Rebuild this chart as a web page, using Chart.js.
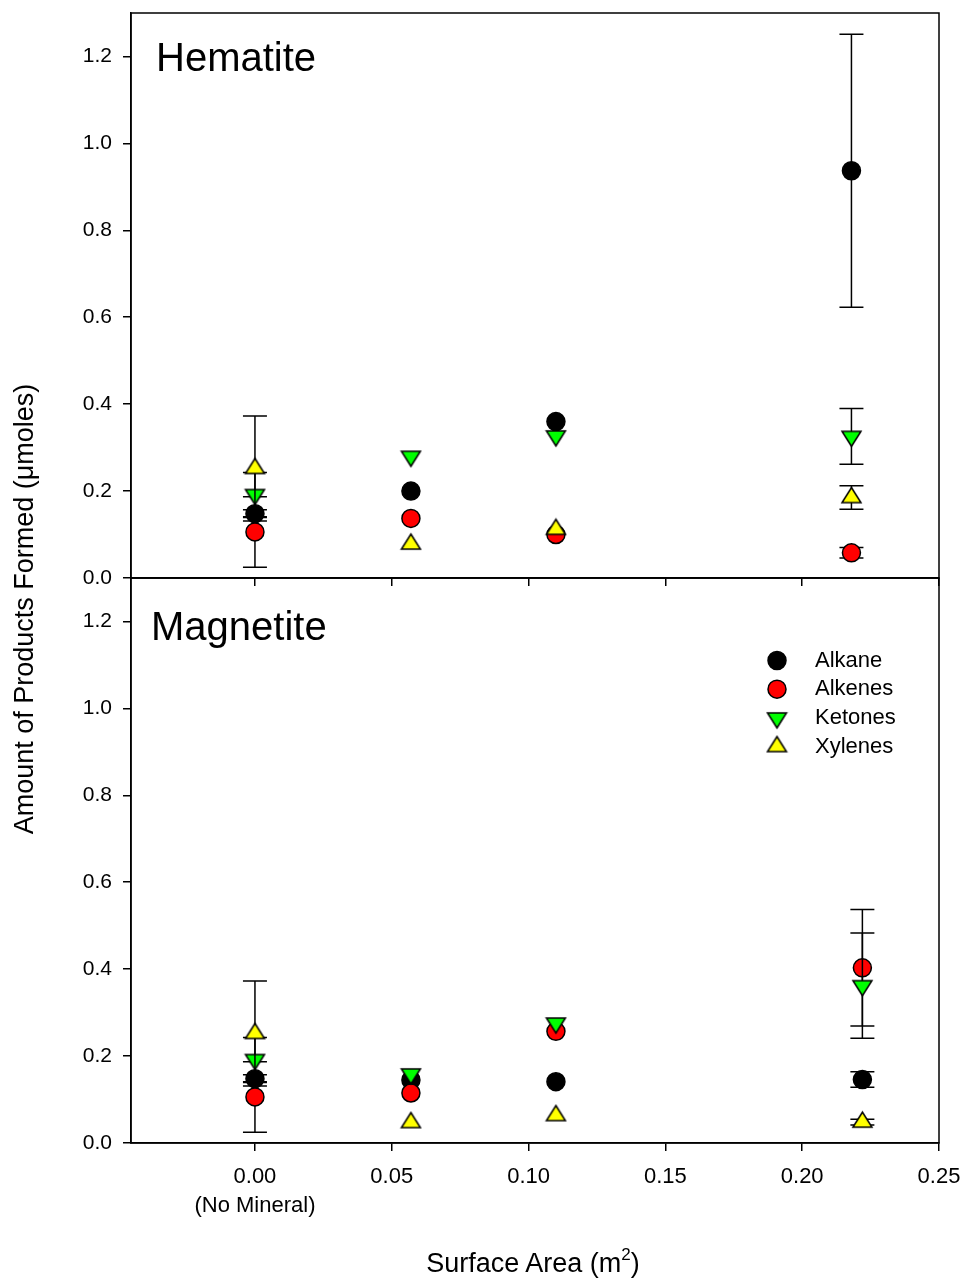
<!DOCTYPE html>
<html>
<head>
<meta charset="utf-8">
<title>Products formed vs surface area</title>
<script src="https://cdn.jsdelivr.net/npm/chart.js@4.4.1/dist/chart.umd.min.js"></script>
<style>
    body { margin: 0; background: #fff; }
    #wrap { position: relative; width: 966px; height: 1279px; font-family: "Liberation Sans", Arial, sans-serif; color: #000; }
    #topCanvas { position: absolute; left: 0; top: 0; }
    #botCanvas { position: absolute; left: 0; top: 578px; }
    .y-title { position: absolute; left: -226px; top: 594px; width: 500px; height: 30px; line-height: 30px;
               text-align: center; font-size: 27px; transform: rotate(-90deg); white-space: nowrap; }
    .x-title { position: absolute; left: 283px; top: 1248px; width: 500px; height: 30px; line-height: 30px;
               text-align: center; font-size: 27px; white-space: nowrap; }
    .x-title sup { font-size: 17px; vertical-align: 0; position: relative; top: -12px; }
</style>
</head>
<body>
<div id="wrap">
    <canvas id="topCanvas" width="966" height="600"></canvas>
    <canvas id="botCanvas" width="966" height="701"></canvas>
    <div class="y-title">Amount of Products Formed (&mu;moles)</div>
    <div class="x-title">Surface Area (m<sup>2</sup>)</div>
</div>
<script>
// Surface areas (m2) for each run
const hemX = [0, 0.057, 0.110, 0.218];
const magX = [0, 0.057, 0.110, 0.222];

// Hematite - amounts (umoles) and error bars
const hemAlkane  = [0.148, 0.200, 0.360, 0.937];
const hemAlkenes = [0.106, 0.137, 0.100, 0.058];
const hemKetones = [0.192, 0.280, 0.327, 0.326];
const hemXylenes = [0.252, 0.078, 0.112, 0.185];

const hemAlkaneErr  = [0.009, null, null, 0.314];
const hemAlkenesErr = [0.081, null, null, 0.012];
const hemKetonesErr = [0.051, null, null, 0.064];
const hemXylenesErr = [0.121, null, null, 0.027];

// Magnetite - amounts (umoles) and error bars
const magAlkane  = [0.148, 0.145, 0.141, 0.146];
const magAlkenes = [0.106, 0.115, 0.257, 0.403];
const magKetones = [0.192, 0.159, 0.276, 0.362];
const magXylenes = [0.252, 0.047, 0.063, 0.048];

const magAlkaneErr  = [0.009, null, null, 0.018];
const magAlkenesErr = [0.081, null, null, 0.134];
const magKetonesErr = [0.051, null, null, 0.121];
const magXylenesErr = [0.121, null, null, 0.0065];

const seriesNames = ['Alkane', 'Alkenes', 'Ketones', 'Xylenes'];
const yTicks = [0, 0.2, 0.4, 0.6, 0.8, 1.0, 1.2];

const FONT = "'Liberation Sans', Arial, sans-serif";

// triangle marker, centroid sits in the middle of the image
function triangle(fill, down) {
    const w = 19, h = 15, pad = 2;
    const H = Math.round(2 * pad + 4 * h / 3);
    const c = document.createElement('canvas');
    c.width = w + 2 * pad;
    c.height = H;
    const g = c.getContext('2d');
    const cx = c.width / 2;
    g.beginPath();
    if (down) {
        const top = H / 2 - h / 3;
        g.moveTo(cx - w / 2, top);
        g.lineTo(cx + w / 2, top);
        g.lineTo(cx, top + h);
    } else {
        const top = H / 2 - 2 * h / 3;
        g.moveTo(cx, top);
        g.lineTo(cx + w / 2, top + h);
        g.lineTo(cx - w / 2, top + h);
    }
    g.closePath();
    g.fillStyle = fill;
    g.fill();
    g.lineWidth = 1.5;
    g.strokeStyle = '#000';
    g.stroke();
    return c;
}

const downGreen = triangle('#00ff00', true);
const upYellow = triangle('#ffff00', false);

const markers = [
    { pointStyle: 'circle', fill: '#000000' },
    { pointStyle: 'circle', fill: '#ff0000' },
    { pointStyle: downGreen, fill: '#00ff00' },
    { pointStyle: upYellow, fill: '#ffff00' }
];

function makeSets(xs, values, errs) {
    return values.map((ys, k) => ({
        label: seriesNames[k],
        data: xs.map((x, i) => ({ x: x, y: ys[i] })),
        err: errs[k],
        showLine: false,
        order: 3 - k,
        pointStyle: markers[k].pointStyle,
        pointRadius: 9,
        pointHoverRadius: 9,
        pointBackgroundColor: markers[k].fill,
        pointBorderColor: '#000',
        pointBorderWidth: 1.5,
        pointHoverBorderWidth: 1.5
    }));
}

// error bars go under each series' own markers
const errorBars = {
    id: 'errorBars',
    beforeDatasetDraw(chart, args) {
        const ds = chart.data.datasets[args.index];
        if (!ds.err) return;
        const ctx = chart.ctx;
        const xs = chart.scales.x, ys = chart.scales.y;
        ctx.save();
        ctx.strokeStyle = '#000';
        ctx.lineWidth = 1.5;
        ds.data.forEach((p, i) => {
            const e = ds.err[i];
            if (e == null) return;
            const px = xs.getPixelForValue(p.x);
            const lo = ys.getPixelForValue(p.y - e);
            const hi = ys.getPixelForValue(p.y + e);
            ctx.beginPath();
            ctx.moveTo(px, lo); ctx.lineTo(px, hi);
            ctx.moveTo(px - 12, lo); ctx.lineTo(px + 12, lo);
            ctx.moveTo(px - 12, hi); ctx.lineTo(px + 12, hi);
            ctx.stroke();
        });
        ctx.restore();
    }
};

const frame = {
    id: 'frame',
    afterDatasetsDraw(chart) {
        const a = chart.chartArea, ctx = chart.ctx;
        ctx.save();
        ctx.strokeStyle = '#000';
        ctx.lineWidth = 1.5;
        ctx.strokeRect(a.left, a.top, a.right - a.left, a.bottom - a.top);
        ctx.restore();
    }
};

const panelLabel = {
    id: 'panelLabel',
    afterDraw(chart, args, opts) {
        if (!opts.text) return;
        const ctx = chart.ctx;
        ctx.save();
        ctx.fillStyle = '#000';
        ctx.font = '40px ' + FONT;
        ctx.textBaseline = 'alphabetic';
        ctx.fillText(opts.text, opts.x, opts.y);
        ctx.restore();
    }
};

const markerKey = {
    id: 'markerKey',
    afterDraw(chart, args, opts) {
        if (!opts.show) return;
        const ctx = chart.ctx;
        ctx.save();
        ctx.font = '22px ' + FONT;
        ctx.textBaseline = 'middle';
        chart.data.datasets.forEach((ds, k) => {
            const y = opts.y + k * opts.step;
            if (ds.pointStyle === 'circle') {
                ctx.beginPath();
                ctx.arc(opts.x, y, 9, 0, Math.PI * 2);
                ctx.fillStyle = ds.pointBackgroundColor;
                ctx.fill();
                ctx.lineWidth = 1.5;
                ctx.strokeStyle = '#000';
                ctx.stroke();
            } else {
                const img = ds.pointStyle;
                ctx.drawImage(img, opts.x - img.width / 2, y - img.height / 2);
            }
            ctx.fillStyle = '#000';
            ctx.fillText(ds.label, opts.textX, y);
        });
        ctx.restore();
    }
};

function axes(showXLabels, xHeight) {
    return {
        x: {
            type: 'linear',
            min: -0.0453,
            max: 0.25,
            afterFit(s) {
                s.height = xHeight;
                s.paddingLeft = 0;
                s.paddingRight = 0;
            },
            border: { display: true, color: '#000', width: 1.5 },
            grid: { drawOnChartArea: false, drawTicks: true, tickLength: 8, color: '#000', lineWidth: 1.5 },
            ticks: {
                display: showXLabels,
                stepSize: 0.05,
                includeBounds: false,
                autoSkip: false,
                maxRotation: 0,
                padding: 11,
                color: '#000',
                font: { family: FONT, size: 22, lineHeight: 1.32 },
                callback: v => Math.abs(v) < 1e-9 ? ['0.00', '(No Mineral)'] : v.toFixed(2)
            }
        },
        y: {
            min: 0,
            max: 1.3,
            afterFit(s) {
                s.width = 131;
                s.paddingTop = 0;
                s.paddingBottom = 0;
            },
            afterBuildTicks(s) { s.ticks = yTicks.map(v => ({ value: v })); },
            border: { display: true, color: '#000', width: 1.5 },
            grid: { drawOnChartArea: false, drawTicks: true, tickLength: 8, color: '#000', lineWidth: 1.5 },
            ticks: {
                padding: 11,
                color: '#000',
                font: { family: FONT, size: 21 },
                callback: v => v.toFixed(1)
            }
        }
    };
}

function baseOptions(xLabels, xHeight, label, key) {
    return {
        responsive: false,
        animation: false,
        devicePixelRatio: 1,
        events: [],
        layout: {
            autoPadding: false,
            padding: { top: xLabels ? 0 : 13, right: 27, left: 0, bottom: 0 }
        },
        scales: axes(xLabels, xHeight),
        plugins: {
            legend: { display: false },
            tooltip: { enabled: false },
            panelLabel: label,
            markerKey: key
        }
    };
}

new Chart(document.getElementById('topCanvas'), {
    type: 'scatter',
    data: {
        datasets: makeSets(hemX,
            [hemAlkane, hemAlkenes, hemKetones, hemXylenes],
            [hemAlkaneErr, hemAlkenesErr, hemKetonesErr, hemXylenesErr])
    },
    options: baseOptions(false, 22, { text: 'Hematite', x: 156, y: 71 }, { show: false }),
    plugins: [errorBars, frame, panelLabel, markerKey]
});

new Chart(document.getElementById('botCanvas'), {
    type: 'scatter',
    data: {
        datasets: makeSets(magX,
            [magAlkane, magAlkenes, magKetones, magXylenes],
            [magAlkaneErr, magAlkenesErr, magKetonesErr, magXylenesErr])
    },
    options: baseOptions(true, 136, { text: 'Magnetite', x: 151, y: 62 },
        { show: true, x: 777, y: 82.5, step: 28.7, textX: 815 }),
    plugins: [errorBars, frame, panelLabel, markerKey]
});
</script>
</body>
</html>
